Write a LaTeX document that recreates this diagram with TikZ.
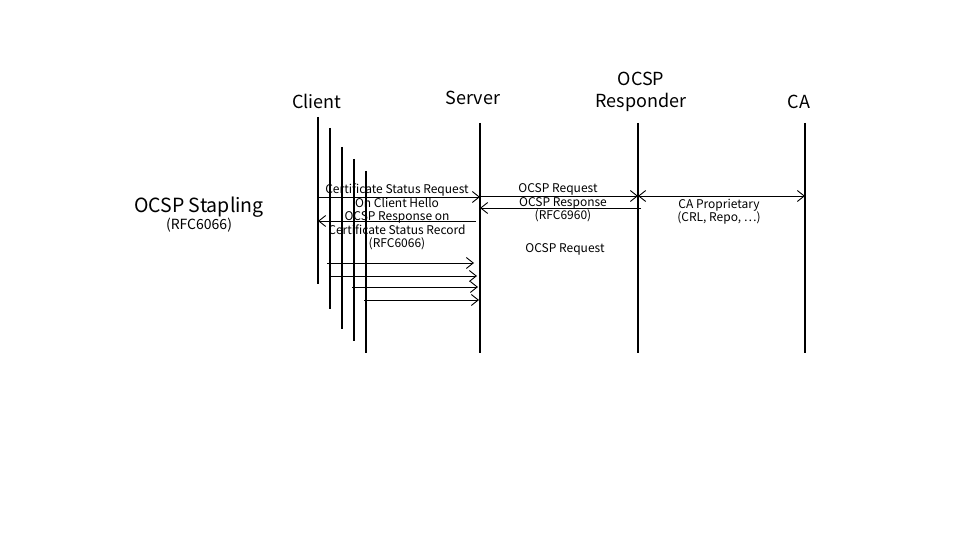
\documentclass[tikz,border=0pt]{standalone}
\usepackage{fontspec}
\setmainfont{Noto Sans CJK JP}
\usetikzlibrary{arrows.meta}
\tikzset{
  lifeline/.style={line width=2pt},
  msg/.style={line width=0.9pt, -{Straight Barb[length=7pt,width=11pt]}},
  bothmsg/.style={line width=0.9pt, {Straight Barb[length=7pt,width=11pt]}-{Straight Barb[length=7pt,width=11pt]}},
  msglabel/.style={font=\fontsize{12}{13.5}\selectfont, align=center, inner sep=0pt},
  actor/.style={font=\fontsize{18}{22}\selectfont, align=center, inner sep=0pt},
}
\begin{document}
\begin{tikzpicture}[x=1pt,y=-1pt]
  \useasboundingbox (0,0) rectangle (960,540);
  % actors
  \node[actor] (client) at (317,101) {Client};
  \node[actor] (server) at (473,98) {Server};
  \node[actor] (responder) at (641,92) {OCSP\\Responder};
  \node[actor] (ca) at (799,102) {CA};
  \node[font=\fontsize{19.5}{24}\selectfont, inner sep=0pt] (stapling) at (199,207) {OCSP Stapling};
  \node[font=\fontsize{14}{16}\selectfont, inner sep=0pt] (staplingrfc) at (199,225.5) {(RFC6066)};

  % lifelines
  \coordinate (c1t) at (318,117); \coordinate (c1b) at (318,284);
  \coordinate (c2t) at (330,128); \coordinate (c2b) at (330,309);
  \coordinate (c3t) at (342,147); \coordinate (c3b) at (342,329);
  \coordinate (c4t) at (354,159); \coordinate (c4b) at (354,341);
  \coordinate (c5t) at (366,171); \coordinate (c5b) at (366,353);
  \coordinate (st) at (480,123); \coordinate (sb) at (480,353);
  \coordinate (rt) at (638,123); \coordinate (rb) at (638,353);
  \coordinate (cat) at (805,123); \coordinate (cab) at (805,353);
  \foreach \a/\b in {c1t/c1b,c2t/c2b,c3t/c3b,c4t/c4b,c5t/c5b,st/sb,rt/rb,cat/cab}
    \draw[lifeline] (\a) -- (\b);

  % message end points
  \coordinate (csr1) at (318,197); \coordinate (csr2) at (480,197);
  \coordinate (rec1) at (476,221); \coordinate (rec2) at (318,221);
  \coordinate (oreq1) at (480,196); \coordinate (oreq2) at (638,196);
  \coordinate (ores1) at (641,208); \coordinate (ores2) at (480,208);
  \coordinate (prop1) at (638,196); \coordinate (prop2) at (805,196);
  \coordinate (m1a) at (327,263); \coordinate (m1b) at (474,263);
  \coordinate (m2a) at (330,276); \coordinate (m2b) at (477,276);
  \coordinate (m3a) at (352,287); \coordinate (m3b) at (478,287);
  \coordinate (m4a) at (364,300); \coordinate (m4b) at (479,300);

  % messages
  \draw[msg] (csr1) -- (csr2);
  \draw[msg] (rec1) -- (rec2);
  \draw[msg] (oreq1) -- (oreq2);
  \draw[msg] (ores1) -- (ores2);
  \draw[bothmsg] (prop1) -- (prop2);
  \foreach \i in {1,...,4}
    \draw[msg] (m\i a) -- (m\i b);

  % labels
  \node[msglabel] (hello) at (397,217) {Certificate Status Request\\On Client Hello\\OCSP Response on\\Certificate Status Record\\(RFC6066)};
  \node[msglabel] (req) at (558,189) {OCSP Request};
  \node[msglabel] (resp) at (563,209.5) {OCSP Response\\(RFC6960)};
  \node[msglabel] (prop) at (719,211.5) {CA Proprietary\\(CRL, Repo, ⋯)};
  \node[msglabel] (req2) at (565,249) {OCSP Request};
\end{tikzpicture}
\end{document}
